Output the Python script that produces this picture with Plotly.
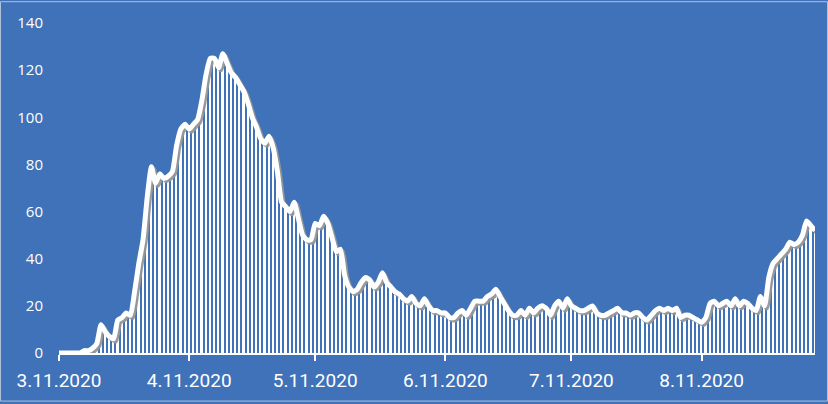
import pandas as pd
import plotly.graph_objects as go

# Daily counts from 11 March 2020 onward (one value per day)
start_date = "2020-03-11"
daily_values = [
    0, 0, 0, 0, 0, 0, 1, 1, 2, 4,
    12, 9, 7, 6, 14, 15, 17, 16, 26, 38,
    48, 66, 79, 72, 76, 74, 75, 77, 88, 95,
    97, 95, 97, 99, 107, 118, 125, 125, 121, 127,
    123, 119, 117, 114, 111, 106, 100, 96, 91, 89,
    92, 87, 77, 64, 62, 60, 64, 57, 50, 48,
    48, 55, 54, 58, 55, 49, 43, 44, 33, 28,
    26, 27, 30, 32, 31, 28, 30, 34, 30, 28,
    26, 25, 23, 22, 24, 21, 20, 23, 20, 18,
    18, 17, 17, 15, 15, 17, 18, 16, 19, 22,
    22, 22, 24, 25, 27, 24, 21, 18, 16, 16,
    18, 16, 19, 17, 19, 20, 19, 16, 20, 22,
    19, 23, 20, 19, 18, 18, 19, 20, 17, 16,
    16, 17, 18, 19, 17, 17, 16, 17, 17, 15,
    14, 16, 18, 19, 18, 19, 18, 19, 15, 16,
    16, 15, 14, 13, 15, 21, 22, 20, 21, 22,
    20, 23, 20, 22, 21, 19, 18, 24, 20, 32,
    38, 40, 42, 44, 47, 46, 47, 50, 56, 54,
    52,
]
dates = pd.date_range(start_date, periods=len(daily_values), freq="D")

# Axis ticks: the 11th of each month
tick_dates = ["2020-03-11", "2020-04-11", "2020-05-11",
              "2020-06-11", "2020-07-11", "2020-08-11"]
tick_labels = ["3.11.2020", "4.11.2020", "5.11.2020",
               "6.11.2020", "7.11.2020", "8.11.2020"]
y_ticks = [0, 20, 40, 60, 80, 100, 120, 140]

BG = "#3F72B8"
DAY_MS = 86400000

fig = go.Figure()

# thin white daily bars
fig.add_trace(go.Bar(
    x=dates, y=daily_values,
    width=0.42 * DAY_MS,
    marker=dict(color="white", line=dict(width=0)),
    hoverinfo="skip",
))

# soft grey drop shadow under the line
fig.add_trace(go.Scatter(
    x=dates + pd.Timedelta(hours=12),
    y=[v - 0.9 for v in daily_values],
    mode="lines",
    line=dict(color="rgba(150,150,150,0.95)", width=5, shape="spline", smoothing=0.5),
    hoverinfo="skip",
))

# white trend line
fig.add_trace(go.Scatter(
    x=dates, y=daily_values,
    mode="lines",
    line=dict(color="white", width=5, shape="spline", smoothing=0.5),
    hoverinfo="skip",
))

W, H = 828, 404
ML, MR, MT, MB = 59, 13, 22, 49
pw, ph = W - ML - MR, H - MT - MB

fig.update_layout(
    width=W, height=H,
    margin=dict(l=ML, r=MR, t=MT, b=MB, pad=0),
    paper_bgcolor=BG, plot_bgcolor=BG,
    showlegend=False,
    bargap=0,
    font=dict(family="Open Sans, Roboto, sans-serif", color="white"),
    xaxis=dict(
        type="date",
        range=[dates[0], dates[-1]],
        tickvals=tick_dates, ticktext=tick_labels,
        tickfont=dict(size=19, color="white", family="Roboto, sans-serif"),
        showgrid=False, zeroline=False,
        showline=True, linecolor="white", linewidth=2,
        ticks="outside", ticklen=6, tickwidth=1.5, tickcolor="white",
        ticklabelstandoff=3,
    ),
    yaxis=dict(
        range=[0, 140],
        tickvals=y_ticks,
        tickfont=dict(size=15, color="white"),
        showgrid=False, zeroline=False, showline=False,
        ticks="", ticklabelstandoff=15,
    ),
    shapes=[dict(
        type="rect", xref="paper", yref="paper",
        x0=-(ML - 0.5) / pw, x1=1 + (MR - 0.5) / pw,
        y0=-(MB - 0.5) / ph, y1=1 + (MT - 0.5) / ph,
        line=dict(color="#AFC1DC", width=1), layer="below",
    )],
)

fig.write_html("out.html")
